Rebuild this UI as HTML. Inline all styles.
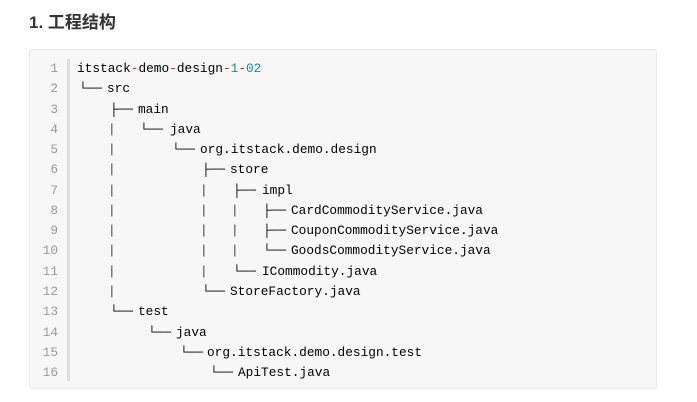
<!DOCTYPE html>
<html><head><meta charset="utf-8"><style>
body{margin:0;background:#fff;width:697px;height:402px;position:relative;overflow:hidden}
h3{position:absolute;left:29px;top:8px;margin:0;font-weight:bold;font-size:17px;font-family:"Liberation Sans","Noto Sans CJK SC",sans-serif;color:#333}
.box{position:absolute;left:29px;top:49px;width:628px;height:340px;background:#f7f7f7;border:1px solid #e9e9e9;border-radius:3px;box-sizing:border-box}
.gut{position:absolute;left:67px;top:59px;width:3px;height:322px;background:#dddddd}
.l{position:absolute;height:20px;font-size:12.8px;font-family:"Liberation Mono","Courier New","DejaVu Sans Mono",monospace;color:#000;white-space:pre;line-height:20px}
.n{position:absolute;width:30px;left:28px;text-align:right;font-size:12.8px;font-family:"Liberation Mono","DejaVu Sans Mono",monospace;color:#999;line-height:20px}
.p{color:#444}
.r{color:#a33}.g{color:#099}
</style></head><body>
<h3>1. 工程结构</h3>
<div class="box"></div>
<div class="gut"></div>
<div id="c"></div>
<script>
var L=[
[[77,'itstack<span class="r">-</span>demo<span class="r">-</span>design<span class="r">-</span><span class="g">1</span><span class="r">-</span><span class="g">02</span>']],
[[79,'└──'],[107,'src']],
[[110,'├──'],[138,'main']],
[[108,'<span class="p">|</span>'],[140,'└──'],[170,'java']],
[[108,'<span class="p">|</span>'],[172,'└──'],[200,'org.itstack.demo.design']],
[[108,'<span class="p">|</span>'],[202,'├──'],[230,'store']],
[[108,'<span class="p">|</span>'],[200,'<span class="p">|</span>'],[233,'├──'],[262,'impl']],
[[108,'<span class="p">|</span>'],[200,'<span class="p">|</span>'],[231,'<span class="p">|</span>'],[263,'├──'],[291,'CardCommodityService.java']],
[[108,'<span class="p">|</span>'],[200,'<span class="p">|</span>'],[231,'<span class="p">|</span>'],[263,'├──'],[291,'CouponCommodityService.java']],
[[108,'<span class="p">|</span>'],[200,'<span class="p">|</span>'],[231,'<span class="p">|</span>'],[263,'└──'],[291,'GoodsCommodityService.java']],
[[108,'<span class="p">|</span>'],[200,'<span class="p">|</span>'],[233,'└──'],[262,'ICommodity.java']],
[[108,'<span class="p">|</span>'],[202,'└──'],[230,'StoreFactory.java']],
[[110,'└──'],[138,'test']],
[[148,'└──'],[176,'java']],
[[180,'└──'],[207,'org.itstack.demo.design.test']],
[[210,'└──'],[238,'ApiTest.java']]];
var h='';
L.forEach(function(r,i){var y=59+i*20.27;
h+='<div class="n" style="top:'+y+'px">'+(i+1)+'</div>';
r.forEach(function(s){h+='<div class="l" style="left:'+s[0]+'px;top:'+y+'px">'+s[1]+'</div>';});});
document.getElementById('c').innerHTML=h;
</script>
</body></html>
